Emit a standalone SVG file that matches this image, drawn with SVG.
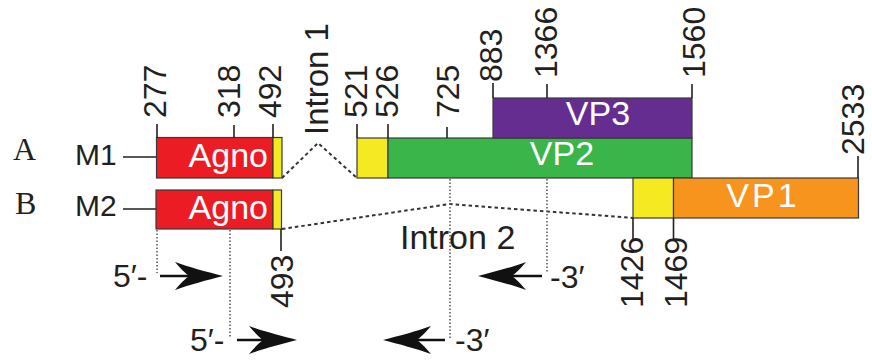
<svg xmlns="http://www.w3.org/2000/svg" width="872" height="362" viewBox="0 0 872 362">
<defs>
<style>
text{font-family:"Liberation Sans",Arial,sans-serif;fill:#231f20}
.num{font-size:32px}
.lab{font-size:34px;fill:#fff}
.row{font-family:"Liberation Serif","Times New Roman",serif;font-size:32px}
.m{font-size:30px}
.box{stroke:#3a3a3a;stroke-width:1.2}
.tick{stroke:#231f20;stroke-width:1.6;fill:none}
.dash{stroke:#333;stroke-width:2;stroke-dasharray:3.5 3;fill:none}
.dot{stroke:#666;stroke-width:1.7;stroke-dasharray:1.5 2;fill:none}
.shaft{stroke:#111;stroke-width:2.6}
.red{fill:#ec1c24}.yel{fill:#f5ea22}.grn{fill:#39b54a}.pur{fill:#662d91}.org{fill:#f7941d}
</style>
<path id="head" d="M0,0 C-15,-4 -35,-9 -48,-14 C-42,-7 -38,-3 -34,0 C-38,3 -42,7 -48,14 C-35,9 -15,4 0,0 Z" fill="#111"/>
</defs>
<rect width="872" height="362" fill="#fff"/>

<g id="labels">
<text class="row" x="13" y="160">A</text>
<text class="row" x="15" y="214">B</text>
<text class="m" x="75" y="165">M1</text>
<text class="m" x="75" y="216">M2</text>
<line class="tick" x1="123" y1="157" x2="157" y2="157"/>
<line class="tick" x1="123" y1="209" x2="156" y2="209"/>
</g>

<g id="connectors">
<polyline class="dash" points="282,178 318,143 357,178"/>
<polyline class="dash" points="282,229 450,204 633,218"/>
<line class="dot" x1="157" y1="230" x2="157" y2="273"/>
<line class="dot" x1="230" y1="230" x2="230" y2="338"/>
<line class="dot" x1="450" y1="179" x2="450" y2="338"/>
<line class="dot" x1="547" y1="179" x2="547" y2="273"/>
</g>

<g id="introns">
<text transform="translate(328,135) rotate(-90)" style="font-size:33px">Intron 1</text>
<text x="400" y="249" style="font-size:34px">Intron 2</text>
</g>

<g id="agnoA">
<rect class="box red" x="156.5" y="137.5" width="116.5" height="40.5"/>
<rect class="box yel" x="273" y="137.5" width="9" height="40.5"/>
<text class="lab" x="268" y="167" text-anchor="end">Agno</text>
</g>

<g id="vp2">
<rect class="box yel" x="357" y="138" width="31" height="40"/>
<rect class="box grn" x="388" y="138" width="304" height="40"/>
<text class="lab" x="562" y="165" text-anchor="middle">VP2</text>
</g>

<g id="vp3">
<rect class="box pur" x="493" y="98" width="199" height="40"/>
<text class="lab" x="598" y="125" text-anchor="middle">VP3</text>
</g>

<g id="agnoB">
<rect class="box red" x="156" y="190" width="117" height="39"/>
<rect class="box yel" x="273" y="190" width="8.5" height="39"/>
<text class="lab" x="268" y="219" text-anchor="end">Agno</text>
</g>

<g id="vp1">
<rect class="box yel" x="633" y="178" width="40.5" height="40"/>
<rect class="box org" x="673.5" y="178" width="185" height="40"/>
<text class="lab" x="763" y="207" text-anchor="middle" style="letter-spacing:3px">VP1</text>
</g>

<g id="ticks">
<line class="tick" x1="157" y1="124" x2="157" y2="138"/>
<line class="tick" x1="234" y1="125" x2="234" y2="138"/>
<line class="tick" x1="273" y1="124" x2="273" y2="138"/>
<line class="tick" x1="357" y1="124" x2="357" y2="138"/>
<line class="tick" x1="388" y1="124" x2="388" y2="138"/>
<line class="tick" x1="447" y1="127" x2="447" y2="138"/>
<line class="tick" x1="493" y1="83" x2="493" y2="98"/>
<line class="tick" x1="547" y1="84" x2="547" y2="98"/>
<line class="tick" x1="692" y1="84" x2="692" y2="98"/>
<line class="tick" x1="858" y1="156" x2="858" y2="178"/>
<line class="tick" x1="281" y1="229" x2="281" y2="251"/>
<line class="tick" x1="633" y1="218" x2="633" y2="241"/>
<line class="tick" x1="673.5" y1="218" x2="673.5" y2="241"/>
<text class="num" transform="translate(166,118) rotate(-90)">277</text>
<text class="num" transform="translate(240,118) rotate(-90)">318</text>
<text class="num" transform="translate(281,118) rotate(-90)">492</text>
<text class="num" transform="translate(367,118) rotate(-90)">521</text>
<text class="num" transform="translate(398,118) rotate(-90)">526</text>
<text class="num" transform="translate(459,118) rotate(-90)">725</text>
<text class="num" transform="translate(502,82) rotate(-90)">883</text>
<text class="num" transform="translate(557,78) rotate(-90)">1366</text>
<text class="num" transform="translate(705,78) rotate(-90)">1560</text>
<text class="num" transform="translate(864,155) rotate(-90)">2533</text>
<text class="num" transform="translate(293,308) rotate(-90)">493</text>
<text class="num" transform="translate(643,308) rotate(-90)">1426</text>
<text class="num" transform="translate(687,308) rotate(-90)">1469</text>
</g>

<g id="primers">
<text class="num" x="113" y="287">5′-</text>
<line class="shaft" x1="160" y1="276" x2="200" y2="276"/>
<use href="#head" transform="translate(223,276)"/>
<text class="num" x="190" y="351">5′-</text>
<line class="shaft" x1="237" y1="340" x2="275" y2="340"/>
<use href="#head" transform="translate(297,340)"/>
<line class="shaft" x1="500" y1="276" x2="542" y2="276"/>
<use href="#head" transform="translate(478,276) rotate(180)"/>
<text class="num" x="550" y="288">-3′</text>
<line class="shaft" x1="405" y1="340" x2="445" y2="340"/>
<use href="#head" transform="translate(383,340) rotate(180)"/>
<text class="num" x="455" y="351">-3′</text>
</g>
</svg>
